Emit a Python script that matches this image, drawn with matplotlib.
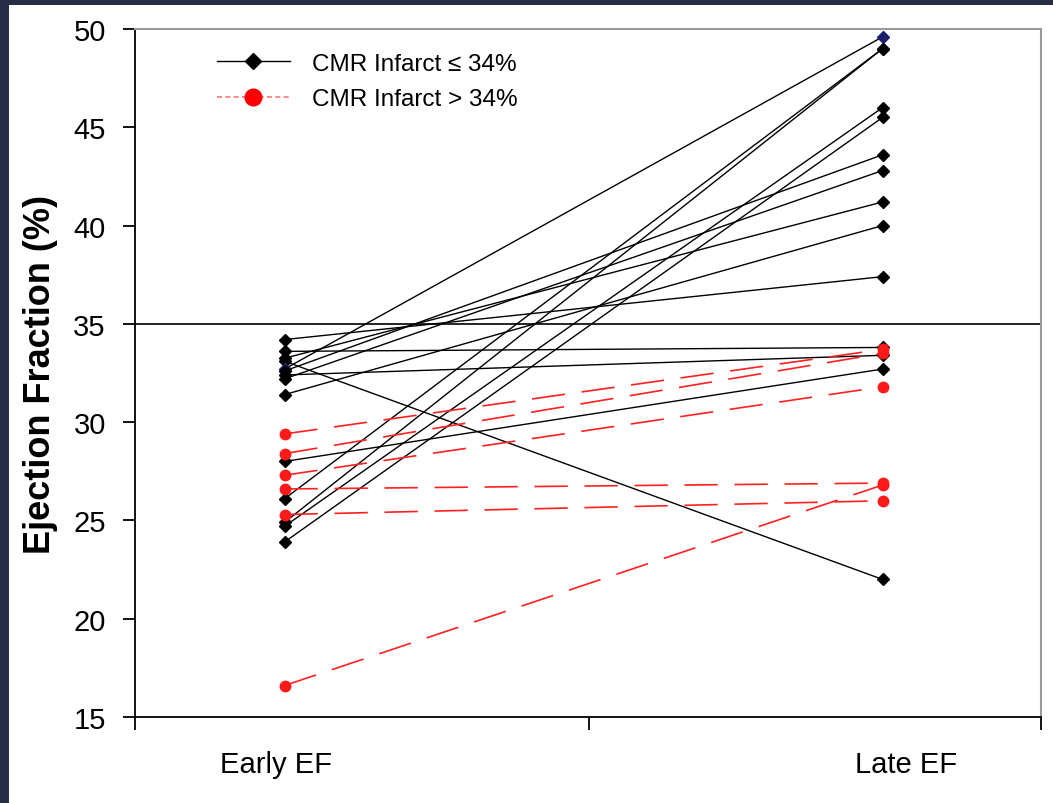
import matplotlib.pyplot as plt
from matplotlib.lines import Line2D
from matplotlib.patches import Rectangle

plt.rcParams['font.family'] = ['Liberation Sans', 'DejaVu Sans']

groups = ['Early EF', 'Late EF']

# patients with CMR infarct <= 34%
early_low = [34.2, 33.6, 33.25, 33.1, 32.7, 32.6, 32.4, 32.2, 31.4,
             28.0, 26.1, 24.9, 24.7, 23.9]
late_low = [37.4, 33.8, 41.2, 22.0, 49.6, 43.6, 33.4, 42.8, 40.0,
            32.7, 49.0, 49.0, 46.0, 45.5]
highlight = 4   # this patient has navy markers

# patients with CMR infarct > 34%
early_high = [29.4, 28.4, 27.3, 26.6, 25.3, 16.6]
late_high = [33.7, 33.5, 31.8, 26.9, 26.0, 26.8]

threshold = 35

W, H = 1053, 804
fig = plt.figure(figsize=(W / 100, H / 100), dpi=100)
fig.patch.set_facecolor('white')
navy_bg = '#272c47'
fig.patches.append(Rectangle((0, 0), 9 / W, 1, transform=fig.transFigure,
                             facecolor=navy_bg, edgecolor='none', zorder=0))
fig.patches.append(Rectangle((0, 1 - 6 / H), 1, 6 / H, transform=fig.transFigure,
                             facecolor=navy_bg, edgecolor='none', zorder=0))

ax = fig.add_axes([135 / W, 86 / H, 906 / W, 688 / H])
x = [1, 2]

ax.axhline(threshold, color='black', lw=1.2, zorder=1)

for i, (e, l) in enumerate(zip(early_low, late_low)):
    mc = '#1c1f6e' if i == highlight else 'black'
    ax.plot(x, [e, l], color='black', lw=1.0, marker='D', ms=6.5,
            mfc=mc, mec=mc, zorder=2)

for e, l in zip(early_high, late_high):
    ax.plot(x, [e, l], color='#ff2020', lw=1.2, ls=(0, (20, 10)),
            marker='o', ms=7.5, mfc='#ff1a1a', mec='#ff1a1a', zorder=3)

ax.set_ylim(15, 50)
ax.set_yticks(range(15, 51, 5))
ax.set_xlim(0.75, 2.265)
ax.set_xticks([0.75, 1.51, 2.265])
ax.set_xticklabels([])
ax.set_xticks([0.985, 2.04], minor=True)
ax.set_xticklabels(groups, minor=True)
ax.tick_params(axis='x', which='minor', length=0, pad=24, labelsize=21)
ax.tick_params(axis='x', which='major', length=9, width=1.3)
ax.tick_params(axis='y', length=9, width=1.3, pad=12, labelsize=21)

for side in ['left', 'bottom']:
    ax.spines[side].set_linewidth(1.3)
for side in ['top', 'right']:
    ax.spines[side].set_color('#9a9a9a')
    ax.spines[side].set_linewidth(1.5)

ax.set_ylabel('Ejection Fraction (%)', fontsize=26, fontweight='bold')
ax.yaxis.set_label_coords(-0.085, 0.5)

handles = [
    Line2D([], [], color='black', lw=1.0, marker='D', ms=8, mfc='black', mec='black'),
    Line2D([], [], color='#f07a7a', lw=1.2, ls=(0, (3, 2)), marker='o', ms=12,
           mfc='#ff0000', mec='#ff0000'),
]
ax.legend(handles, ['CMR Infarct \u2264 34%', 'CMR Infarct > 34%'],
          loc='upper left', bbox_to_anchor=(0.077, 0.983), frameon=False,
          fontsize=17.5, handlelength=3.0, handletextpad=0.9, borderpad=0,
          labelspacing=0.55)

plt.savefig('out.png', dpi=100)
